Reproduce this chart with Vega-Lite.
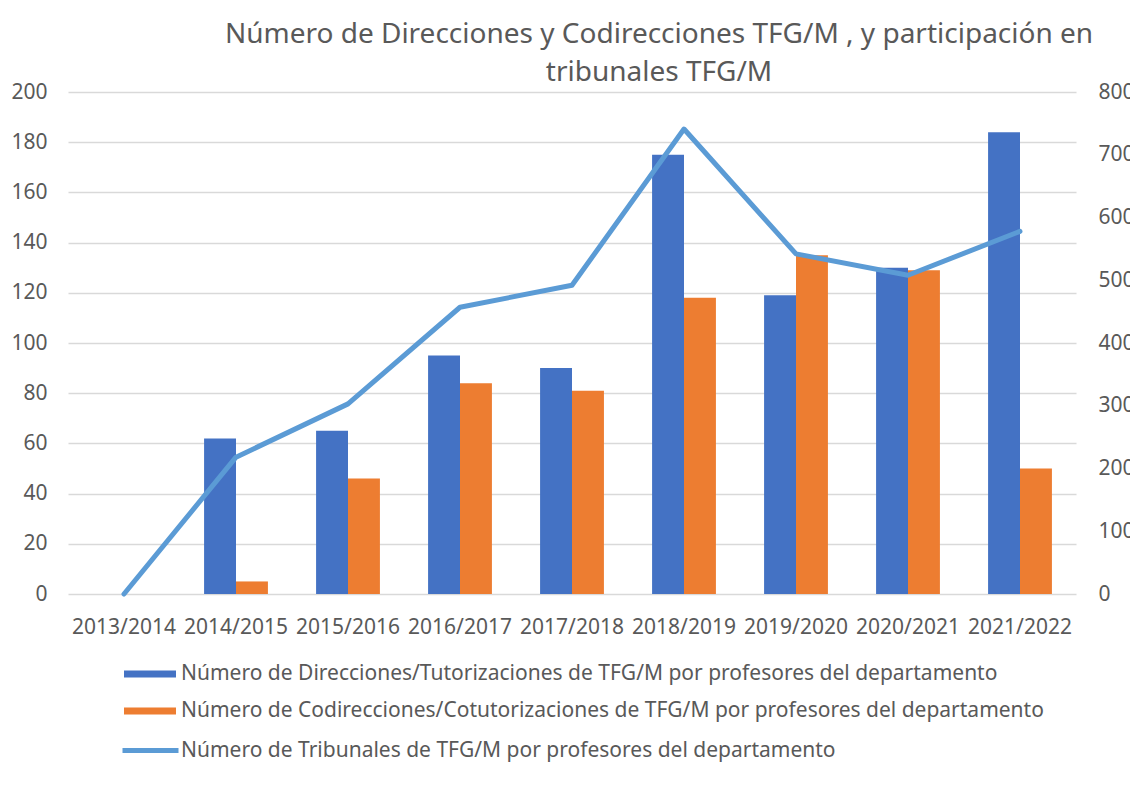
{
  "$schema": "https://vega.github.io/schema/vega-lite/v6.json",
  "width": 1008,
  "height": 502,
  "autosize": {"type": "none"},
  "padding": {"left": 68, "top": 92, "right": 54, "bottom": 191},
  "background": "white",
  "config": {
    "font": "Noto Sans",
    "view": {"stroke": null},
    "axis": {
      "labelFont": "Noto Sans",
      "labelFontSize": 21,
      "labelColor": "#595959",
      "domain": false,
      "ticks": false,
      "gridColor": "#d9d9d9",
      "gridWidth": 1.5,
      "title": null
    },
    "legend": {
      "labelFont": "Noto Sans",
      "labelFontSize": 21,
      "labelColor": "#595959",
      "labelLimit": 1200,
      "title": null,
      "orient": "none"
    }
  },
  "title": {
    "text": ["Número de Direcciones y Codirecciones TFG/M , y participación en", "tribunales TFG/M"],
    "fontSize": 28,
    "font": "Noto Sans",
    "fontWeight": "normal",
    "color": "#595959",
    "anchor": "middle",
    "dx": 87,
    "lineHeight": 38,
    "offset": -6
  },
  "datasets": {
    "barras": [
      {"year": "2013/2014", "serie": "Número de Direcciones/Tutorizaciones de TFG/M por profesores del departamento", "value": 0},
      {"year": "2013/2014", "serie": "Número de Codirecciones/Cotutorizaciones de TFG/M por profesores del departamento", "value": 0},
      {"year": "2014/2015", "serie": "Número de Direcciones/Tutorizaciones de TFG/M por profesores del departamento", "value": 62},
      {"year": "2014/2015", "serie": "Número de Codirecciones/Cotutorizaciones de TFG/M por profesores del departamento", "value": 5},
      {"year": "2015/2016", "serie": "Número de Direcciones/Tutorizaciones de TFG/M por profesores del departamento", "value": 65},
      {"year": "2015/2016", "serie": "Número de Codirecciones/Cotutorizaciones de TFG/M por profesores del departamento", "value": 46},
      {"year": "2016/2017", "serie": "Número de Direcciones/Tutorizaciones de TFG/M por profesores del departamento", "value": 95},
      {"year": "2016/2017", "serie": "Número de Codirecciones/Cotutorizaciones de TFG/M por profesores del departamento", "value": 84},
      {"year": "2017/2018", "serie": "Número de Direcciones/Tutorizaciones de TFG/M por profesores del departamento", "value": 90},
      {"year": "2017/2018", "serie": "Número de Codirecciones/Cotutorizaciones de TFG/M por profesores del departamento", "value": 81},
      {"year": "2018/2019", "serie": "Número de Direcciones/Tutorizaciones de TFG/M por profesores del departamento", "value": 175},
      {"year": "2018/2019", "serie": "Número de Codirecciones/Cotutorizaciones de TFG/M por profesores del departamento", "value": 118},
      {"year": "2019/2020", "serie": "Número de Direcciones/Tutorizaciones de TFG/M por profesores del departamento", "value": 119},
      {"year": "2019/2020", "serie": "Número de Codirecciones/Cotutorizaciones de TFG/M por profesores del departamento", "value": 135},
      {"year": "2020/2021", "serie": "Número de Direcciones/Tutorizaciones de TFG/M por profesores del departamento", "value": 130},
      {"year": "2020/2021", "serie": "Número de Codirecciones/Cotutorizaciones de TFG/M por profesores del departamento", "value": 129},
      {"year": "2021/2022", "serie": "Número de Direcciones/Tutorizaciones de TFG/M por profesores del departamento", "value": 184},
      {"year": "2021/2022", "serie": "Número de Codirecciones/Cotutorizaciones de TFG/M por profesores del departamento", "value": 50}
    ],
    "tribunales": [
      {"year": "2013/2014", "serie": "Número de Tribunales de TFG/M por profesores del departamento", "value": 0},
      {"year": "2014/2015", "serie": "Número de Tribunales de TFG/M por profesores del departamento", "value": 218},
      {"year": "2015/2016", "serie": "Número de Tribunales de TFG/M por profesores del departamento", "value": 303},
      {"year": "2016/2017", "serie": "Número de Tribunales de TFG/M por profesores del departamento", "value": 457},
      {"year": "2017/2018", "serie": "Número de Tribunales de TFG/M por profesores del departamento", "value": 492},
      {"year": "2018/2019", "serie": "Número de Tribunales de TFG/M por profesores del departamento", "value": 741},
      {"year": "2019/2020", "serie": "Número de Tribunales de TFG/M por profesores del departamento", "value": 542},
      {"year": "2020/2021", "serie": "Número de Tribunales de TFG/M por profesores del departamento", "value": 508},
      {"year": "2021/2022", "serie": "Número de Tribunales de TFG/M por profesores del departamento", "value": 578}
    ]
  },
  "layer": [
    {
      "data": {"name": "barras"},
      "mark": {"type": "bar"},
      "encoding": {
        "x": {
          "field": "year",
          "type": "nominal",
          "sort": null,
          "scale": {"paddingInner": 0.43, "paddingOuter": 0.215},
          "axis": {"labelAngle": 0, "labelPadding": 22, "grid": false}
        },
        "xOffset": {
          "field": "serie",
          "type": "nominal",
          "sort": null
        },
        "y": {
          "field": "value",
          "type": "quantitative",
          "scale": {"domain": [0, 200]},
          "axis": {"values": [0, 20, 40, 60, 80, 100, 120, 140, 160, 180, 200], "grid": true, "labelPadding": 21}
        },
        "color": {
          "field": "serie",
          "type": "nominal",
          "sort": null,
          "scale": {"range": ["#4472C4", "#ED7D31"]},
          "legend": {
            "legendX": 68,
            "legendY": 568,
            "symbolType": "M-1.857,-0.25H1.857V0.25H-1.857Z",
            "symbolSize": 784,
            "symbolStrokeWidth": 0,
            "symbolOpacity": 1,
            "labelOffset": 17,
            "rowPadding": 13
          }
        }
      }
    },
    {
      "data": {"name": "tribunales"},
      "mark": {"type": "line", "strokeWidth": 5, "strokeCap": "round", "strokeJoin": "round"},
      "encoding": {
        "x": {"field": "year", "type": "nominal", "sort": null},
        "y": {
          "field": "value",
          "type": "quantitative",
          "scale": {"domain": [0, 800]},
          "axis": {"orient": "right", "values": [0, 100, 200, 300, 400, 500, 600, 700, 800], "grid": false, "labelPadding": 22}
        },
        "color": {
          "field": "serie",
          "type": "nominal",
          "scale": {"range": ["#5B9BD5"]},
          "legend": {
            "legendX": 66,
            "legendY": 642,
            "symbolType": "M-2,0H2",
            "symbolSize": 784,
            "symbolStrokeWidth": 5,
            "symbolFillColor": "transparent",
            "labelOffset": 14
          }
        }
      }
    }
  ],
  "resolve": {"scale": {"y": "independent", "color": "independent"}}
}
